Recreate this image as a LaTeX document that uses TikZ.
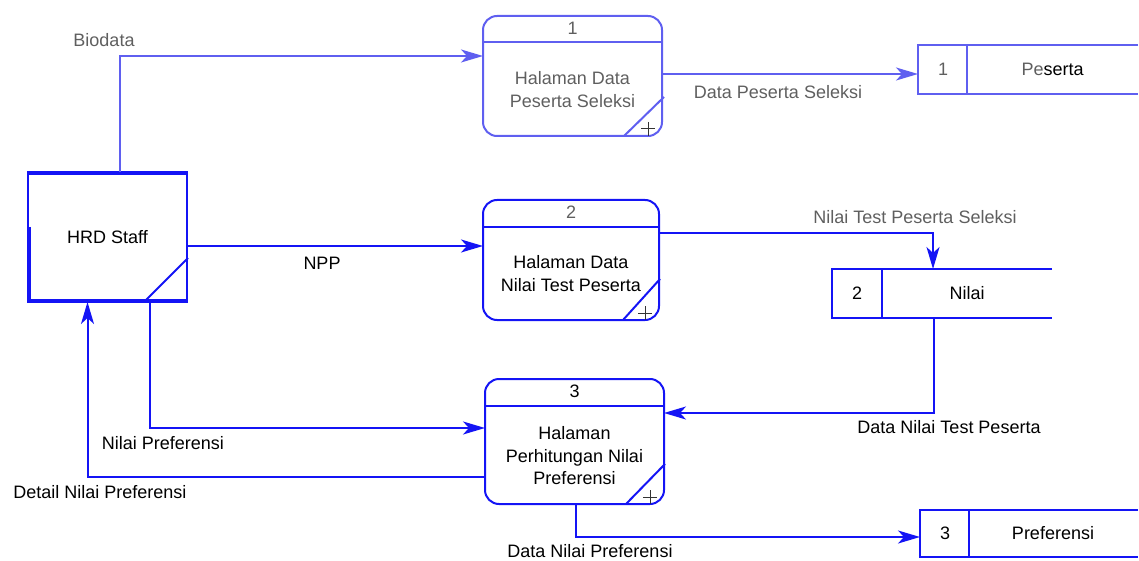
\documentclass[tikz,border=0pt]{standalone}
\usepackage{fontspec}
\setmainfont{Liberation Sans}
\usetikzlibrary{arrows.meta,calc}
\definecolor{dfdblue}{RGB}{20,20,245}
\definecolor{fadeblue}{RGB}{95,95,240}
\definecolor{fadetext}{RGB}{95,95,95}
\tikzset{
  txt/.style={font=\fontsize{18}{23}\selectfont, inner sep=0pt, outer sep=0pt},
  procbox/.style={draw=dfdblue, line width=2pt, rounded corners=14pt, inner sep=0pt, outer sep=0pt},
  storebox/.style={inner sep=0pt, outer sep=0pt},
  storeline/.style={draw=dfdblue, line width=2pt},
  flow/.style={draw=dfdblue, line width=2pt, -{Stealth[length=22pt,width=13pt,inset=6pt]}},
  fadeflow/.style={flow, draw=fadeblue, -{Stealth[length=22pt,width=13pt,inset=6pt,fill=fadeblue]}},
  cornermark/.style={draw=dfdblue, line width=2pt},
  plusmark/.style={draw=black!80, line width=1pt}
}
\begin{document}
\begin{tikzpicture}[x=1pt,y=-1pt]
\useasboundingbox (0,0) rectangle (1139,561);

% ---- processes ----
\node[procbox, draw=fadeblue, minimum width=179pt, minimum height=120pt] (p1) at (572.5,76) {};
\node[procbox, minimum width=176pt, minimum height=120pt] (p2) at (571,260) {};
\node[procbox, minimum width=179pt, minimum height=125pt] (p3) at (574.5,441.5) {};

\draw[fadeblue, line width=2pt] ($(p1.north west)+(0,26)$) -- ($(p1.north east)+(0,26)$);
\draw[dfdblue, line width=2pt] ($(p2.north west)+(0,27)$) -- ($(p2.north east)+(0,27)$);
\draw[dfdblue, line width=2pt] ($(p3.north west)+(0,27)$) -- ($(p3.north east)+(0,27)$);

\node[txt, text=fadetext] (p1n) at ($(p1.north)+(0,12)$) {1};
\node[txt, text=fadetext] (p2n) at ($(p2.north)+(0,12)$) {2};
\node[txt] (p3n) at ($(p3.north)+(0,12)$) {3};

\node[txt, text=fadetext, align=center] (p1t) at ($(p1.center)+(0,13.5)$) {Halaman Data\\Peserta Seleksi};
\node[txt, align=center] (p2t) at ($(p2.center)+(0,14)$) {Halaman Data\\Nilai Test Peserta};
\node[txt, align=center, font=\fontsize{18}{22.5}\selectfont] (p3t) at ($(p3.center)+(0,14.5)$) {Halaman\\Perhitungan Nilai\\Preferensi};

% corner marks of the processes
\draw[cornermark, draw=fadeblue] ($(p1.south east)+(-38,0)$) -- ($(p1.south east)+(2,-39)$);
\draw[cornermark] ($(p2.south east)+(-36,0)$) -- ($(p2.south east)+(1,-41)$);
\draw[cornermark] ($(p3.south east)+(-38,0)$) -- ($(p3.south east)+(1,-40)$);
\foreach \p in {p1,p2,p3}{
  \draw[plusmark] ($(\p.south east)+(-21,-7)$) -- ($(\p.south east)+(-7,-7)$);
  \draw[plusmark] ($(\p.south east)+(-14,-14)$) -- ($(\p.south east)+(-14,0)$);
}

% ---- external entity ----
\node[txt, draw=dfdblue, line width=2pt, minimum width=159pt, minimum height=130pt] (hrd) at (107.5,237) {HRD Staff};
\draw[dfdblue, line width=1.5pt] ($(hrd.north west)+(0,2)$) -- ($(hrd.north east)+(0,2)$);
\draw[dfdblue, line width=1.5pt] ($(hrd.south west)+(0,-2)$) -- ($(hrd.south east)+(0,-2)$);
\draw[dfdblue, line width=1.5pt] ($(hrd.west)+(2,-10)$) -- ($(hrd.south west)+(2,0)$);
\draw[cornermark] ($(hrd.south east)+(-41,-2)$) -- ($(hrd.south east)+(1,-44)$);

% ---- data stores ----
\node[storebox, minimum width=220pt, minimum height=49pt] (ds1) at (1028,69.5) {};
\node[storebox, minimum width=220pt, minimum height=49pt] (ds2) at (942,293.5) {};
\node[storebox, minimum width=218pt, minimum height=47pt] (ds3) at (1029,533.5) {};

\draw[storeline, draw=fadeblue] (ds1.north east) -- (ds1.north west) -- (ds1.south west) -- (ds1.south east);
\draw[storeline, draw=fadeblue] ($(ds1.north west)+(49,0)$) -- ($(ds1.south west)+(49,0)$);
\draw[storeline] (ds2.north east) -- (ds2.north west) -- (ds2.south west) -- (ds2.south east);
\draw[storeline] ($(ds2.north west)+(50,0)$) -- ($(ds2.south west)+(50,0)$);
\draw[storeline] (ds3.north east) -- (ds3.north west) -- (ds3.south west) -- (ds3.south east);
\draw[storeline] ($(ds3.north west)+(49,0)$) -- ($(ds3.south west)+(49,0)$);

\node[txt, text=fadetext] (ds1n) at ($(ds1.west)+(25,0)$) {1};
\node[txt] (ds1t) at ($(ds1.west)+(134.5,0)$) {{\color{fadetext}Pe}serta};
\node[txt] (ds2n) at ($(ds2.west)+(25,0)$) {2};
\node[txt] (ds2t) at ($(ds2.west)+(135,0)$) {Nilai};
\node[txt] (ds3n) at ($(ds3.west)+(25,0)$) {3};
\node[txt] (ds3t) at ($(ds3.west)+(133,0)$) {Preferensi};

% ---- data flows ----
\coordinate (bio) at ($(hrd.north)+(12.5,0)$);
\draw[fadeflow] (bio) |- ($(p1.west)+(0,-20)$);

\coordinate (npp) at ($(p2.west)+(0,-14)$);
\draw[flow] (npp -| hrd.east) -- (npp);

\coordinate (dps) at ($(p1.east)+(0,-2)$);
\draw[fadeflow] (dps) -- (dps -| ds1.west);

\coordinate (ntps) at ($(p2.east)+(0,-27)$);
\draw[flow] (ntps) -| ($(ds2.north)+(-9,0)$);

\coordinate (dntp) at ($(ds2.south)+(-8,0)$);
\draw[flow] (dntp) |- ($(p3.east)+(0,-28.5)$);

\coordinate (np) at ($(hrd.south)+(42.5,0)$);
\draw[flow] (np) |- ($(p3.west)+(0,-13.5)$);

\coordinate (dnp) at ($(p3.west)+(0,35.5)$);
\draw[flow] (dnp) -| ($(hrd.south)+(-20,0)$);

\coordinate (dnpr) at ($(p3.south)+(1.5,0)$);
\draw[flow] (dnpr) |- ($(ds3.west)+(0,3.5)$);

% ---- flow labels ----
\node[txt, text=fadetext] (lbio) at (104,40) {Biodata};
\node[txt] (lnpp) at (322,263) {NPP};
\node[txt, text=fadetext] (ldps) at (778,92) {Data Peserta Seleksi};
\node[txt, text=fadetext] (lntps) at (915,217) {Nilai Test Peserta Seleksi};
\node[txt] (ldntp) at (949,427) {Data Nilai Test Peserta};
\node[txt] (lnp) at (163,443) {Nilai Preferensi};
\node[txt] (ldnp) at (100,492) {Detail Nilai Preferensi};
\node[txt] (ldnpr) at (590,551) {Data Nilai Preferensi};
\end{tikzpicture}
\end{document}
